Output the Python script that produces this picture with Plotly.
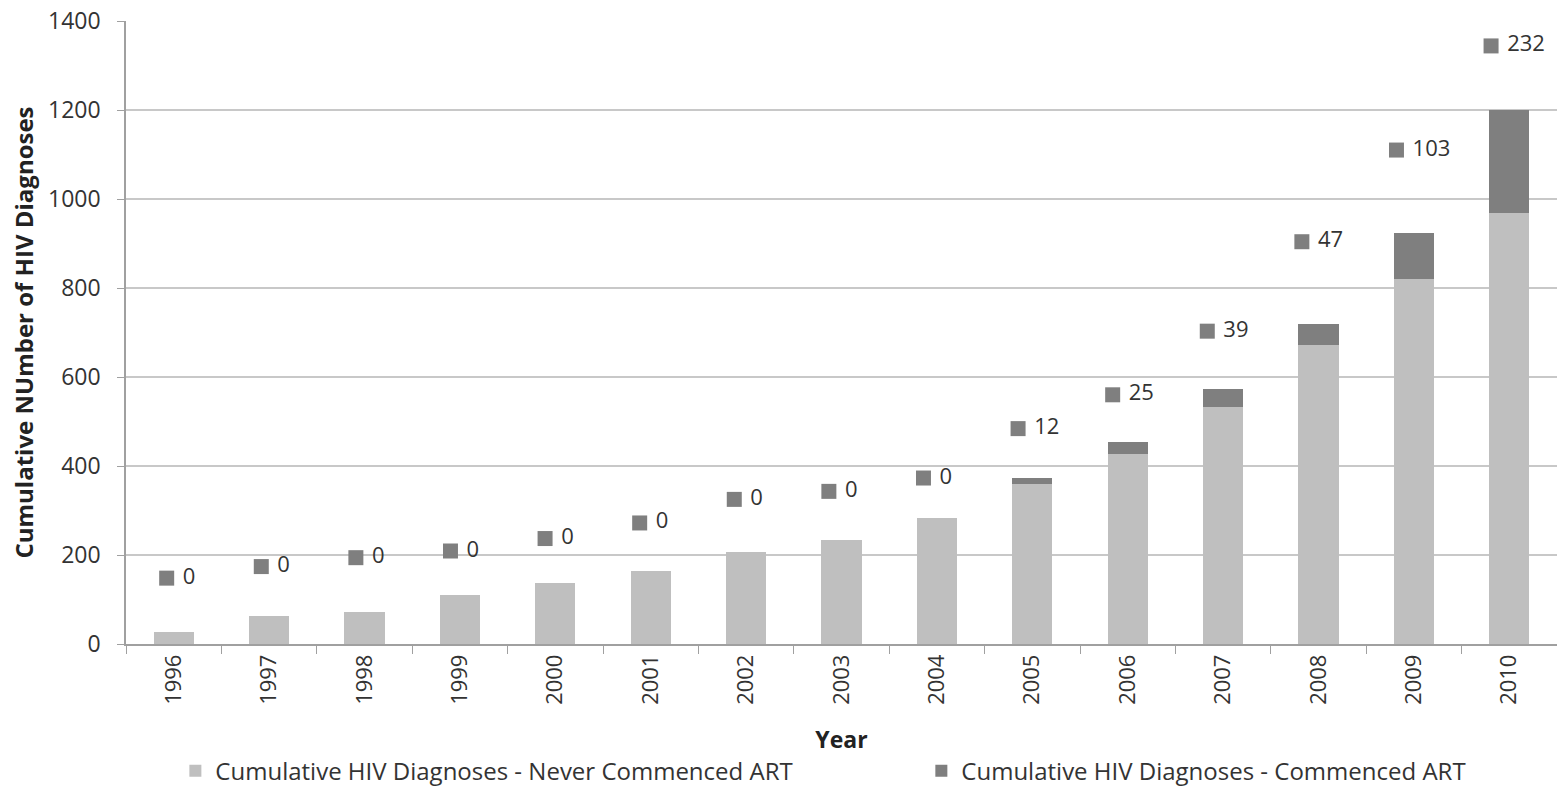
import plotly.graph_objects as go

years = ["1996", "1997", "1998", "1999", "2000", "2001", "2002", "2003",
         "2004", "2005", "2006", "2007", "2008", "2009", "2010"]
never_art = [28, 64, 73, 110, 138, 165, 207, 234, 283, 360, 428, 533, 671, 820, 968]
commenced_art = [0, 0, 0, 0, 0, 0, 0, 0, 0, 12, 25, 39, 47, 103, 232]
marker_series = [148, 174, 194, 209, 237, 272, 325, 343, 373, 484, 560, 703, 904, 1110, 1344]
y_ticks = [0, 200, 400, 600, 800, 1000, 1200, 1400]

FONT = "Open Sans"
TXT = "#333333"

fig = go.Figure()
fig.add_trace(go.Bar(
    x=years, y=never_art, name="Cumulative HIV Diagnoses - Never Commenced ART",
    marker=dict(color="#bfbfbf", line=dict(width=0)), legend="legend",
))
fig.add_trace(go.Bar(
    x=years, y=commenced_art, name="Cumulative HIV Diagnoses - Commenced ART",
    marker=dict(color="#7f7f7f", line=dict(width=0)), legend="legend2",
))
fig.add_trace(go.Scatter(
    x=years, y=marker_series, xaxis="x2", mode="markers+text",
    marker=dict(symbol="square", size=15, color="#7f7f7f"),
    text=[" " + str(v) for v in commenced_art], textposition="middle right",
    textfont=dict(family=FONT, size=22, color=TXT),
    showlegend=False, cliponaxis=False,
))

legend_common = dict(
    orientation="h", yanchor="middle", y=-0.204, xanchor="left",
    font=dict(size=24, color=TXT), bgcolor="rgba(0,0,0,0)",
)

fig.update_layout(
    width=1557, height=790,
    margin=dict(l=126, r=0, t=21, b=146, autoexpand=False),
    paper_bgcolor="white", plot_bgcolor="white",
    barmode="stack", bargap=0.58,
    font=dict(family=FONT, size=22, color=TXT),
    xaxis=dict(
        type="category", categoryorder="array", categoryarray=years,
        range=[-0.5, 14.5], automargin=False,
        tickangle=-90, tickson="boundaries", ticks="outside", ticklen=8,
        tickcolor="#a0a0a0", showline=True, linecolor="#a0a0a0", linewidth=1.5,
        showgrid=False, tickfont=dict(size=22, color=TXT),
        title=dict(text="<b>Year</b>", font=dict(size=23, color="#222222"), standoff=28),
    ),
    xaxis2=dict(
        type="category", categoryorder="array", categoryarray=years,
        overlaying="x", range=[-0.43, 14.697], visible=False,
    ),
    yaxis=dict(
        range=[0, 1400], tickvals=y_ticks, ticks="outside", ticklen=7,
        tickcolor="#a0a0a0", showline=True, linecolor="#a0a0a0", linewidth=1.5,
        showgrid=True, gridcolor="#c8c8c8", gridwidth=1.5, zeroline=False,
        tickfont=dict(size=23, color=TXT), automargin=False, ticklabelstandoff=12,
        title=dict(text="<b>Cumulative NUmber of HIV Diagnoses</b>",
                   font=dict(size=24, color="#222222"), standoff=8),
    ),
    legend=dict(x=0.0345, **legend_common),
    legend2=dict(x=0.5558, **legend_common),
)

fig.write_html(
    "out.html",
    config={"displayModeBar": False},
    post_script="document.body.style.margin='0px';document.body.style.overflow='hidden';",
)
